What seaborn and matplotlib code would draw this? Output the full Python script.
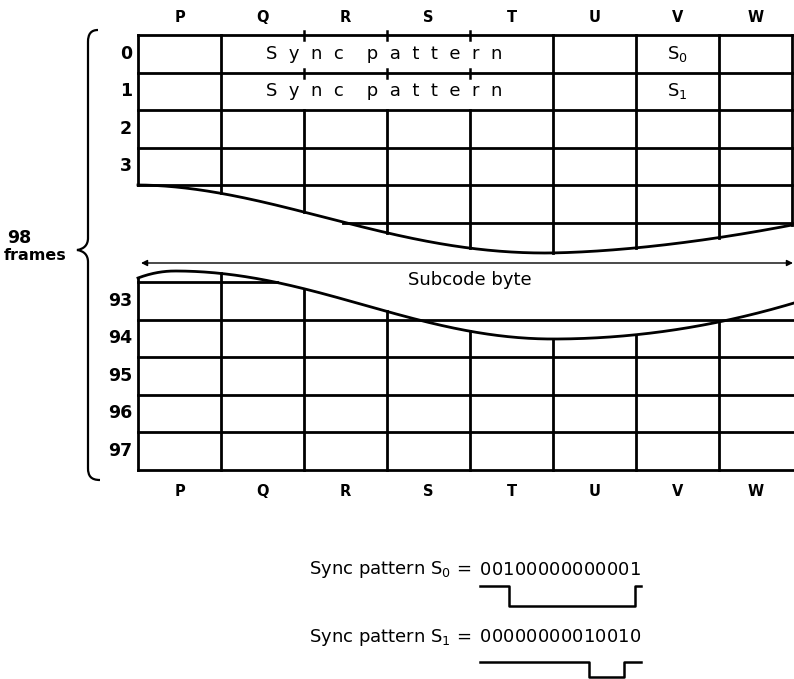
import numpy as np
import matplotlib
matplotlib.use("Agg")
import matplotlib.pyplot as plt
import seaborn as sns
import pandas as pd
from matplotlib.path import Path
from matplotlib.patches import PathPatch

# ---------------- data ----------------
columns = ["P", "Q", "R", "S", "T", "U", "V", "W"]
top_frames = [0, 1, 2, 3]
bottom_frames = [93, 94, 95, 96, 97]
frame_count = 98
merged_cols = ["Q", "R", "S", "T"]
merged_text = "S  y  n  c    p  a  t  t  e  r  n"
symbol_col = "V"
sync_symbols = ["S$_0$", "S$_1$"]
sync_bits = ["00100000000001", "00000000010010"]
arrow_label = "Subcode byte"

# ---------------- style / layout ----------------
sns.set_theme(style="white")
plt.rcParams["font.family"] = ["DejaVu Sans"]
plt.rcParams["mathtext.default"] = "regular"

W_PX, H_PX = 794, 679
X0, COL_W, X_END, X_EDGE = 138.0, 83.0, 792.0, 794.0
TOP, ROW_H, BOT = 35.0, 37.5, 469.5
LW = 2.0
INK = "black"

col_edges = [X0 + i * COL_W for i in range(len(columns))] + [X_END]
col_center = {c: (col_edges[i] + col_edges[i + 1]) / 2 for i, c in enumerate(columns)}
col_index = {c: i for i, c in enumerate(columns)}


def top_curve(x):
    x = np.asarray(x, float)
    xa, xm, xb = X0, 545.0, X_END
    ya, ym, yb = TOP + 4 * ROW_H, 253.0, 225.0
    t = np.clip((x - xa) / (xm - xa), 0, 1)
    left = ya + (ym - ya) * (1 - np.cos(np.pi * t ** 0.93)) / 2
    s = np.clip((x - xm) / (xb - xm), 0, 1)
    right = ym - (ym - yb) * s ** 1.7
    return np.where(x <= xm, left, right)


def low_curve(x):
    x = np.asarray(x, float)
    xk, xm, xb = 175.0, 553.0, X_EDGE
    yk, ym, yb = 271.0, 339.0, 303.0
    bump = yk + 7 * (np.clip((xk - x) / (xk - X0), 0, None)) ** 2
    t = np.clip((x - xk) / (xm - xk), 0, 1)
    mid = yk + (ym - yk) * (1 - np.cos(np.pi * t)) / 2
    s = np.clip((x - xm) / (xb - xm), 0, 1)
    right = ym - (ym - yb) * s ** 2
    return np.where(x < xk, bump, np.where(x <= xm, mid, right))


fig = plt.figure(figsize=(W_PX / 100, H_PX / 100), dpi=100)
ax = fig.add_axes([0, 0, 1, 1])
ax.set_xlim(0, W_PX)
ax.set_ylim(H_PX, 0)
ax.axis("off")


def line(xs, ys, lw=LW):
    df = pd.DataFrame({"x": xs, "y": ys})
    sns.lineplot(data=df, x="x", y="y", sort=False, estimator=None, ax=ax,
                 color=INK, lw=lw, solid_capstyle="projecting", legend=False)


# ---------------- top block ----------------
xs_top = np.linspace(X0, X_END, 900)
line([X0, X_END], [TOP, TOP])
for k in range(1, 6):
    y = TOP + k * ROW_H
    ys = np.where(top_curve(xs_top) >= y - 0.5, y, np.nan)
    line(xs_top, ys)
line(xs_top, top_curve(xs_top))
line([X0, X0], [TOP, TOP + 4 * ROW_H])
m_lo, m_hi = col_index[merged_cols[0]], col_index[merged_cols[-1]] + 1
for i, xe in enumerate(col_edges[1:], start=1):
    yc = float(top_curve(xe))
    if m_lo < i < m_hi:
        for k in range(2):
            yk = TOP + k * ROW_H
            line([xe, xe], [yk - 4, yk + 5], lw=1.8)
        line([xe, xe], [TOP + 2 * ROW_H, yc])
    else:
        line([xe, xe], [TOP, yc])

# column letters
for c in columns:
    ax.text(col_center[c], 18, c, ha="center", va="center", fontsize=10.5,
            fontweight="bold", color=INK)
    ax.text(col_center[c], 491, c, ha="center", va="center", fontsize=10.5,
            fontweight="bold", color=INK)

# row labels
for k, f in enumerate(top_frames):
    ax.text(132, TOP + (k + 0.5) * ROW_H, str(f), ha="right", va="center",
            fontsize=12.5, fontweight="bold", color=INK)
for k, f in enumerate(bottom_frames):
    ax.text(132, BOT - (len(bottom_frames) - k - 0.5) * ROW_H, str(f), ha="right",
            va="center", fontsize=12.5, fontweight="bold", color=INK)

# merged sync cells and symbols
mx = (col_edges[m_lo] + col_edges[m_hi]) / 2
for k, sym in enumerate(sync_symbols):
    yc = TOP + (k + 0.5) * ROW_H
    ax.text(mx - 3, yc, merged_text, ha="center", va="center", fontsize=13, color=INK)
    ax.text(col_center[symbol_col], yc, sym, ha="center", va="center",
            fontsize=13, color=INK)

# ---------------- arrow ----------------
ax.annotate("", xy=(141, 263), xytext=(X_EDGE - 1, 263),
            arrowprops=dict(arrowstyle="<|-|>", color=INK, lw=1.0,
                            mutation_scale=9, shrinkA=0, shrinkB=0))
ax.text(470, 280, arrow_label, ha="center", va="center", fontsize=13, color=INK)

# ---------------- lower block ----------------
xs_low = np.linspace(X0, X_EDGE, 900)
for k in range(0, 6):
    y = BOT - k * ROW_H
    ys = np.where(low_curve(xs_low) <= y + 0.5, y, np.nan)
    line(xs_low, ys)
line(xs_low, low_curve(xs_low))
for xe in col_edges[:-1]:
    line([xe, xe], [float(low_curve(xe)), BOT])

# ---------------- brace ----------------
bx, tip_x = 88.0, 77.0
y0, y1 = 30.0, 480.0
ym = 250.0
verts = [(98, y0), (91, y0), (bx, y0 + 4), (bx, y0 + 12),
         (bx, ym - 12),
         (bx, ym - 5), (bx - 4, ym - 1), (tip_x, ym),
         (bx - 4, ym + 1), (bx, ym + 5), (bx, ym + 12),
         (bx, y1 - 12),
         (bx, y1 - 4), (91, y1), (100, y1)]
codes = [Path.MOVETO, Path.CURVE4, Path.CURVE4, Path.CURVE4,
         Path.LINETO,
         Path.CURVE4, Path.CURVE4, Path.CURVE4,
         Path.CURVE4, Path.CURVE4, Path.CURVE4,
         Path.LINETO,
         Path.CURVE4, Path.CURVE4, Path.CURVE4]
ax.add_patch(PathPatch(Path(verts, codes), fill=False, lw=1.6, edgecolor=INK))
ax.text(7, 238, str(frame_count), ha="left", va="center", fontsize=12.5,
        fontweight="bold", color=INK)
ax.text(4, 255, "frames", ha="left", va="center", fontsize=11.5,
        fontweight="bold", color=INK)

# ---------------- sync patterns + waveforms ----------------
DIG_X0, DIG_W = 480.0, 11.5
text_y = [570.0, 637.0]
wave_hi = [586.0, 662.0]
wave_lo = [606.0, 677.0]
for sym, bits, ty, hi, lo in zip(sync_symbols, sync_bits, text_y, wave_hi, wave_lo):
    ax.text(DIG_X0 - 9, ty, f"Sync pattern {sym} =", ha="right", va="center",
            fontsize=13, color=INK)
    for i, b in enumerate(bits):
        ax.text(DIG_X0 + (i + 0.5) * DIG_W, ty, b, ha="center", va="center",
                fontsize=13, color=INK)
    wx, wy = [DIG_X0], [hi]
    level = hi
    for i, b in enumerate(bits):
        if b == "1":
            xt = DIG_X0 + (i + 0.5) * DIG_W
            wx.append(xt); wy.append(level)
            level = lo if level == hi else hi
            wx.append(xt); wy.append(level)
    wx.append(DIG_X0 + len(bits) * DIG_W); wy.append(level)
    line(wx, wy, lw=1.8)

fig.savefig("out.png", dpi=100)
